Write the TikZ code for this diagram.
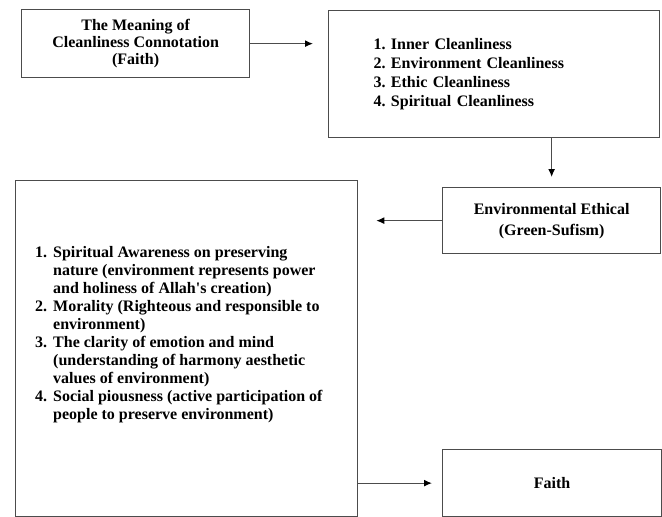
\documentclass[tikz,border=0pt]{standalone}
\usepackage{fontspec}
\setmainfont{Liberation Serif}
\usetikzlibrary{arrows.meta}
\frenchspacing

\begin{document}
\begin{tikzpicture}[x=1pt,y=1pt,
        box/.style={draw=black!70,line width=1.3pt,rectangle,inner sep=0pt,anchor=north west},
        flow/.style={draw=black!70,line width=1.2pt,-{Latex[length=8pt,width=7pt,black]}}]
        \useasboundingbox (0,0) rectangle (662,-517);
        \node[box,minimum width=228,minimum height=68,align=center,font=\fontsize{16}{17}\selectfont\bfseries] (meaning) at (21,-9) {The Meaning of\\Cleanliness Connotation\\(Faith)};
        \node[box,minimum width=331,minimum height=127,text width=241,align=left,font=\fontsize{16}{19}\selectfont\bfseries] (steps) at (328,-10) {1. Inner Cleanliness\\2. Environment Cleanliness\\3. Ethic Cleanliness\\4. Spiritual Cleanliness};
        \node[box,minimum width=218,minimum height=66,align=center,font=\fontsize{16}{21}\selectfont\bfseries] (ethic) at (442,-187) {Environmental Ethical\\(Green-Sufism)};
        \node[box,minimum width=342,minimum height=336] (aspects) at (15,-180) {};
        \node[anchor=north west,inner sep=0pt,align=left,font=\fontsize{16}{18}\selectfont\bfseries] (aspectlist) at (35,-246) {%
            \makebox[18pt][l]{1.}Spiritual Awareness on preserving\\
            \hspace*{18pt}nature (environment represents power\\
            \hspace*{18pt}and holiness of Allah\textquotesingle s creation)\\
            \makebox[18pt][l]{2.}Morality (Righteous and responsible to\\
            \hspace*{18pt}environment)\\
            \makebox[18pt][l]{3.}The clarity of emotion and mind\\
            \hspace*{18pt}(understanding of harmony aesthetic\\
            \hspace*{18pt}values of environment)\\
            \makebox[18pt][l]{4.}Social piousness (active participation of\\
            \hspace*{18pt}people to preserve environment)};
        \node[box,minimum width=219,minimum height=67,font=\fontsize{16}{18}\selectfont\bfseries] (faith) at (442,-449) {Faith};
        % connectors
        \draw[flow,shorten >=15pt] (meaning.east) -- (meaning.east -| steps.west);
        \draw[flow,shorten >=10pt] (steps.south -| ethic.north) -- (ethic.north);
        \draw[flow,shorten >=18pt] (ethic.west) -- (ethic.west -| aspects.east);
        \draw[flow,shorten >=10pt] (aspects.east |- faith.west) -- (faith.west);
\end{tikzpicture}
\end{document}
